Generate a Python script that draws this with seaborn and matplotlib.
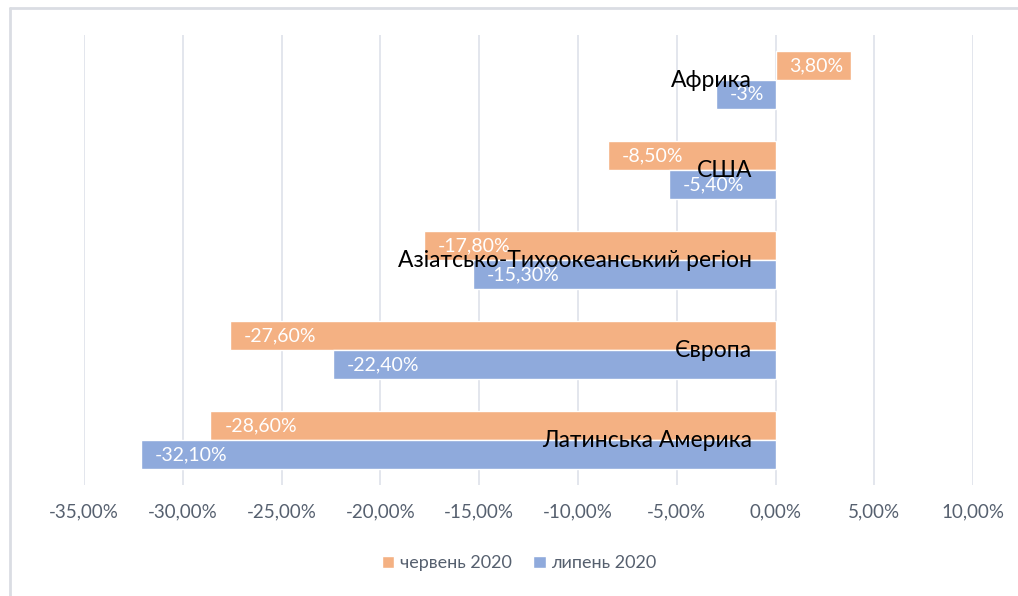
import matplotlib.pyplot as plt
import matplotlib.lines as mlines
import seaborn as sns
import pandas as pd

regions = ['Африка', 'США', 'Азіатсько-Тихоокеанський регіон', 'Європа', 'Латинська Америка']
june = [3.8, -8.5, -17.8, -27.6, -28.6]
july = [-3.0, -5.4, -15.3, -22.4, -32.1]
june_labels = ['3,80%', '-8,50%', '-17,80%', '-27,60%', '-28,60%']
july_labels = ['-3%', '-5,40%', '-15,30%', '-22,40%', '-32,10%']
series = ['червень 2020', 'липень 2020']
xticks = [-35, -30, -25, -20, -15, -10, -5, 0, 5, 10]

df = pd.DataFrame({
    'region': regions * 2,
    'value': june + july,
    'period': [series[0]] * 5 + [series[1]] * 5,
})

sns.set_style('white')
plt.rcParams['font.family'] = ['Lato', 'DejaVu Sans']

fig = plt.figure(figsize=(10.18, 5.96), dpi=100)
ax = fig.add_axes([0.0825, 0.186, 0.8735, 0.755])

palette = {series[0]: '#F4B183', series[1]: '#8FAADC'}
sns.barplot(data=df, x='value', y='region', hue='period', orient='h',
            palette=palette, width=0.65, saturation=1, ax=ax, legend=True)

ax.set_xlim(-35, 10)
ax.set_xticks(xticks)
ax.set_xticklabels([f'{t:.2f}%'.replace('.', ',') for t in xticks],
                   fontsize=13.5, color='#56606F')
ax.tick_params(axis='x', length=0, pad=13)
ax.set_yticks([])
ax.set_xlabel('')
ax.set_ylabel('')
ax.grid(axis='x', color='#DEE2EA', linewidth=1.2)
ax.set_axisbelow(True)
for s in ax.spines.values():
    s.set_visible(False)

# data labels inside bar ends
labels = june_labels + july_labels
for patch, lab, val in zip(ax.patches[:10], labels, june + july):
    y = patch.get_y() + patch.get_height() / 2
    if val < 0:
        ax.annotate(lab, (val, y), xytext=(10, 0), textcoords='offset points',
                    ha='left', va='center', color='white', fontsize=14)
    else:
        ax.annotate(lab, (val, y), xytext=(-5, 0), textcoords='offset points',
                    ha='right', va='center', color='white', fontsize=14)

# category labels next to zero axis
for i, name in enumerate(regions):
    ax.annotate(name, (0, i), xytext=(-17, 0), textcoords='offset points',
                ha='right', va='center', color='black', fontsize=16.5)

handles, lbls = ax.get_legend_handles_labels()
ax.get_legend().remove()
fig.legend(handles, lbls, loc='center', bbox_to_anchor=(0.51, 0.055), ncol=2,
           frameon=False, fontsize=13, handlelength=0.7, handleheight=0.7,
           columnspacing=1.2, handletextpad=0.3, labelcolor='#56606F')

# chart frame, only top and left edges visible
fig.lines.append(mlines.Line2D([0.0095, 1.0], [0.987, 0.987], transform=fig.transFigure,
                               color='#DADDE3', linewidth=2))
fig.lines.append(mlines.Line2D([0.0095, 0.0095], [0.0, 0.987], transform=fig.transFigure,
                               color='#DADDE3', linewidth=2))

fig.savefig('out.png', dpi=100)
